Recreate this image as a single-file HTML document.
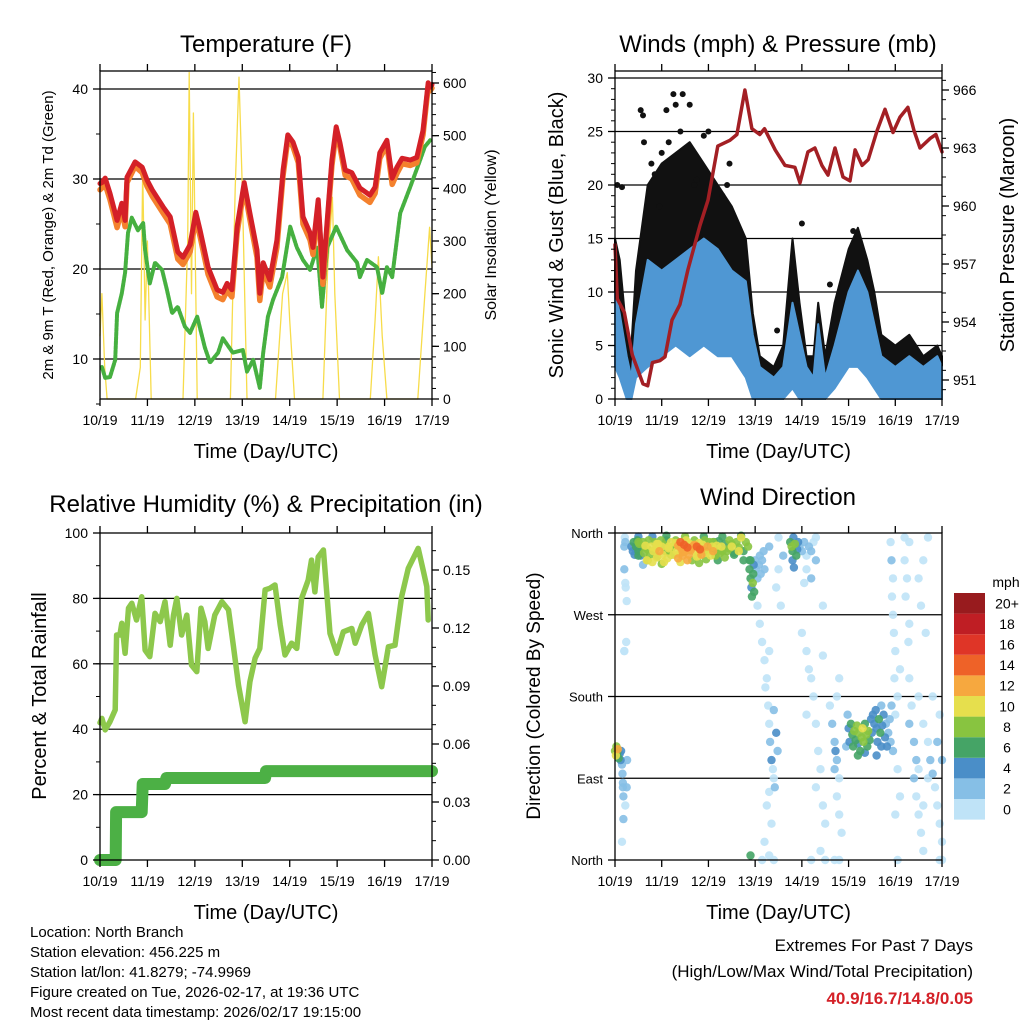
<!DOCTYPE html>
<html><head><meta charset="utf-8"><style>
html,body{margin:0;padding:0;background:#fff;}
svg{display:block;font-family:"Liberation Sans",sans-serif;}
</style></head><body>
<svg id="c" width="1024" height="1024" viewBox="0 0 1024 1024"></svg>
<script>
// ---------- DATA ----------
const dayLabels = ["10/19","11/19","12/19","13/19","14/19","15/19","16/19","17/19"];
const tempTimes = [0,0.04,0.11,0.21,0.36,0.46,0.53,0.57,0.74,0.89,0.99,1.10,1.33,1.48,1.64,1.75,1.90,2.02,2.11,2.28,2.47,2.59,2.68,2.78,2.89,3.04,3.16,3.31,3.37,3.44,3.58,3.73,3.86,3.96,4.07,4.18,4.28,4.43,4.49,4.60,4.70,4.79,4.89,4.98,5.06,5.17,5.31,5.48,5.69,5.80,5.90,6.05,6.16,6.26,6.37,6.54,6.68,6.81,6.92,6.96,7.0];
const temp2m = [29.5,29.6,30.1,28.4,25.4,27.3,25.4,30.2,31.9,31.3,29.9,28.8,26.9,25.8,21.9,21.3,22.7,26.3,24.3,20.2,17.7,17.4,18.4,17.7,24.7,29.6,26.2,22.1,17.3,20.7,18.8,23.2,31,34.9,34.1,32.4,25.8,24,22.4,27.7,19.1,25.4,32.1,35.8,34,31,30.7,29,28.2,29.1,32.9,34.3,30.1,31.3,32.3,32.1,32.4,35.4,40.7,40.2,40.5];
const temp9m = [28.8,29.0,29.4,27.7,24.6,26.6,24.7,29.6,31.4,30.7,29.2,28.1,26.2,25.0,21.1,20.5,21.9,25.6,23.6,19.4,16.9,16.6,17.6,16.9,24.0,29.0,25.5,21.3,16.5,19.9,18.0,22.4,30.4,34.4,33.6,31.8,25.0,23.2,21.6,27.0,18.3,24.7,31.5,35.3,33.5,30.4,30.0,28.2,27.4,28.4,32.3,33.8,29.4,30.6,31.7,31.5,31.8,34.9,40.3,39.8,40.1];
const dewTimes = [0.04,0.11,0.21,0.32,0.36,0.46,0.53,0.59,0.67,0.80,0.91,0.95,1.05,1.16,1.31,1.41,1.52,1.64,1.79,1.90,2.05,2.21,2.32,2.49,2.59,2.80,3.01,3.10,3.23,3.37,3.44,3.54,3.65,3.84,4.01,4.15,4.28,4.43,4.58,4.68,4.79,4.98,5.21,5.42,5.48,5.63,5.84,5.95,6.05,6.16,6.33,6.54,6.75,6.85,6.96];
const dewpoint = [9.1,7.9,8.0,9.9,15.1,17.3,19.6,24.0,25.7,24.3,25.1,22.1,18.4,20.7,19.9,17.7,15.1,15.8,13.6,12.9,14.7,11.3,9.6,10.7,12.3,10.7,11.0,8.6,9.9,6.8,10.7,14.7,16.6,19.1,24.7,22.4,21.0,19.9,22.4,15.8,22.4,24.7,22.1,20.7,19.1,21.0,20.2,17.3,20.2,19.1,26.2,29.1,32.1,33.6,34.3];
const solarTimes = [0,0.04,0.1,0.15,0.75,0.85,0.9,0.95,1.0,1.08,1.75,1.85,1.88,1.93,1.97,2.05,2.75,2.85,2.93,3.0,3.1,3.7,3.85,3.95,4.0,4.1,4.7,4.8,4.9,4.95,5.05,5.7,5.8,5.87,5.95,6.05,6.7,6.85,6.95,7.0];
const solarValues = [120,200,60,0,0,60,435,150,300,0,0,300,620,200,543,0,0,400,611,400,0,0,200,240,150,0,0,250,383,200,0,0,150,270,120,0,0,200,326,250];
const windTimes = [0,0.1,0.25,0.35,0.45,0.7,1.0,1.3,1.6,1.9,2.2,2.5,2.8,2.95,3.1,3.4,3.6,3.8,3.95,4.1,4.25,4.35,4.5,4.7,5.0,5.2,5.4,5.55,5.7,6.0,6.3,6.6,6.9,7];
const windHigh = [10,8,4,2,7,13,12,13,14,15,14,12,11,6,3,2,3,9,6,3,2,7,2,5,10,12,10,7,4,3,4,3,4,3];
const windLow = [3,2,0,0,2,3,4,5,4,5,4,4,2,0,0,0,0,1,0,0,0,0,0,1,3,3,2,1,0,0,0,0,0,0];
const gustHigh = [15,13,6,5,12,20,22,23,24,22,20,18,15,8,4,3,5,15,9,4,4,9,4,9,14,16,13,10,6,5,6,4,5,4];
const gustLow = [5,3,1,0,4,8,9,10,10,10,9,8,5,1,0,0,0,2,1,0,0,1,0,2,5,5,4,2,1,0,0,0,0,0];
const gustOutTimes = [0.05,0.15,0.55,0.6,0.62,0.78,0.85,1.0,1.1,1.25,1.3,1.4,1.45,1.6,1.7,1.75,1.9,2.3,2.4,2.45,3.47,4.6,2.0,1.15,0.95,4.0,5.1];
const gustOutValues = [20,19.8,27,26.5,24,22,21,23,27,28.5,27.5,25,28.5,27.5,20,20.5,24.6,19,20,22,6.4,10.7,25,24,18,16.4,15.7];
const presTimes = [0,0.05,0.2,0.37,0.6,0.7,0.8,0.96,1.07,1.22,1.39,1.56,1.82,1.99,2.2,2.46,2.61,2.78,2.93,3.1,3.2,3.43,3.64,3.85,3.96,4.13,4.28,4.43,4.56,4.71,4.88,5.03,5.14,5.29,5.42,5.61,5.78,5.95,6.1,6.27,6.4,6.53,6.75,6.87,7];
const pressure = [958,955.2,954.5,952.3,950.8,950.7,951.9,952,952.2,954.1,954.9,956.7,959,960.3,963.1,963.4,963.7,966,964,963.7,964,962.9,962.1,962,961.2,962.8,963,962.1,961.6,963,961.5,961.3,962.9,962.1,962.4,963.9,965,963.8,964.6,965.1,963.9,963,963.5,963.7,962.8];
const rhTimes = [0,0.04,0.11,0.21,0.32,0.35,0.42,0.46,0.53,0.6,0.67,0.77,0.88,0.95,1.05,1.16,1.27,1.37,1.48,1.55,1.62,1.72,1.83,1.93,2.04,2.13,2.21,2.28,2.42,2.57,2.71,2.81,2.92,3.06,3.16,3.27,3.37,3.48,3.58,3.69,3.8,3.9,4.04,4.15,4.25,4.39,4.46,4.53,4.6,4.71,4.78,4.85,4.99,5.13,5.31,5.38,5.52,5.66,5.8,5.94,6.08,6.22,6.36,6.5,6.71,6.82,6.89,6.92];
const rhValues = [42,43.3,39.8,42.3,45.9,68.8,68.8,72.4,63.2,77,78.5,73.4,80.5,64.2,62.2,75.4,72.9,79,65.7,74.9,80,68.8,74.9,59.6,57.6,77,72.9,64.7,74.9,79,76.5,65.7,53.5,42.3,54.5,61.7,64.7,82.6,83.1,84.1,71.9,62.7,66.3,64.7,80,85.6,91.7,82,92.7,94.8,82,69.3,63.2,69.8,70.8,66.3,71.9,75.4,62.7,53,65.2,65.7,80.5,89.2,95.3,88.2,83.6,73.4];
const rainTimes = [0,0.33,0.34,0.88,0.9,1.37,1.4,3.48,3.5,7];
const rainValues = [0,0,0.0248,0.0248,0.0393,0.0393,0.0424,0.0424,0.046,0.046];
const dirTimes = [0,0.02,0.03,0.05,0.06,0.08,0.1,0.12,0.13,0.15,0.16,0.17,0.17,0.18,0.15,0.18,0.2,0.2,0.21,0.22,0.2,
0.35,0.38,0.40,0.42,0.45,0.48,0.50,0.52,0.55,0.58,0.60,0.62,0.65,0.68,0.70,0.72,0.75,0.78,0.80,0.82,0.85,0.88,0.90,0.92,0.95,0.98,1.00,1.02,1.05,1.08,1.10,1.12,1.15,1.18,1.20,1.22,1.25,1.28,1.30,1.32,1.35,1.38,1.40,1.42,1.45,1.48,1.50,1.52,1.55,1.58,1.60,1.62,1.65,1.68,1.70,1.72,1.75,1.78,1.80,1.82,1.85,1.88,1.90,1.92,1.95,1.98,2.00,2.02,2.05,2.08,2.10,2.12,2.15,2.18,2.20,2.22,2.25,2.28,2.30,2.35,2.40,2.45,2.50,2.55,2.60,2.65,2.70,2.75,2.80,2.85,2.88,
0.5,0.8,1.1,1.5,1.9,2.3,2.7,0.6,1.0,1.4,1.8,2.2,
2.88,2.9,2.92,2.93,2.95,2.96,2.97,3.0,3.02,3.05,3.08,3.1,3.12,3.15,3.18,3.2,2.98,2.9,
3.05,3.1,3.15,3.2,3.25,3.3,3.22,3.28,3.3,3.32,3.35,3.38,3.4,3.3,3.25,3.35,3.2,3.3,3.15,3.4,3.5,3.45,3.55,3.6,3.5,3.4,3.45,3.48,3.42,3.3,
3.75,3.78,3.8,3.82,3.85,3.88,3.9,3.8,3.83,3.92,3.95,4.0,4.05,4.1,4.15,4.2,4.25,4.3,4.1,4.05,4.2,4.3,
4.0,4.1,4.15,4.2,4.25,4.1,4.3,4.35,4.4,4.3,4.45,4.5,4.4,4.5,4.2,4.45,4.45,
4.6,4.65,4.7,4.72,4.75,4.7,4.8,4.75,4.8,4.85,4.8,4.7,4.75,4.8,
5.0,5.02,5.05,5.08,5.1,5.12,5.15,5.18,5.2,5.22,5.25,5.28,5.3,5.32,5.35,5.38,5.4,5.42,5.45,5.48,5.5,5.52,5.55,5.58,5.6,5.62,5.65,5.68,5.7,5.72,5.75,5.78,5.8,5.82,5.85,5.88,5.9,5.2,5.35,5.6,5.7,4.98,4.95,5.92,5.95,
5.9,5.92,5.95,5.93,5.95,5.97,6.0,5.98,6.05,6.1,6.0,6.05,6.1,6.0,6.05,6.2,6.2,6.25,6.22,6.3,6.3,6.28,6.3,6.35,6.3,6.4,6.45,6.4,6.5,6.45,6.5,6.55,6.6,6.6,6.7,6.7,6.75,6.8,6.85,6.9,6.95,7.0,6.95,6.9,6.95,7.0,6.8,6.6,6.5,6.6,6.7,6.5,6.55,6.65,7.0,
0.2,2.9,
0.5,0.7,0.9,1.05,1.2,1.35,1.55,1.75,1.95,2.15,2.35,2.55,2.75,0.45,0.65,0.85,1.15,1.45,1.65,1.85,2.05,2.25,2.45,2.65,0.22,0.23,0.25,0.24,0.26,0.25,0.22,0.5,0.9,1.3,1.7,2.1,2.5];
const dirValues = [120,115,125,118,122,112,117,110,120,105,95,85,80,70,20,45,345,230,355,350,320,
345,340,350,336,345,352,340,348,335,344,350,338,346,330,342,352,336,345,328,340,350,343,334,348,340,352,345,336,347,340,352,332,345,338,350,344,336,346,352,340,346,337,350,343,335,347,340,352,344,336,348,341,330,346,352,339,345,335,349,342,336,347,341,352,338,345,340,350,335,345,340,350,337,346,342,351,338,345,340,348,340,352,345,338,350,344,355,340,350,345,330,
356,356,357,356,356,356,357,325,326,328,327,330,
320,310,300,290,305,315,325,330,320,310,325,335,315,330,340,320,295,330,
280,260,240,220,200,230,190,170,150,130,110,100,90,75,60,40,20,5,0,0,320,300,280,335,355,165,140,120,80,345,
350,345,340,355,348,335,342,330,322,350,345,340,350,335,345,340,350,330,320,305,310,355,
250,230,210,200,180,160,150,120,100,80,60,40,10,0,0,280,225,
170,150,130,120,110,100,90,70,50,30,0,0,180,200,
145,130,150,138,125,142,132,148,128,140,120,135,145,130,150,138,125,142,132,155,140,160,150,165,145,130,155,140,125,148,160,135,150,125,140,155,130,115,118,115,170,160,125,170,120,
350,330,310,290,270,250,230,200,180,210,160,100,70,50,0,355,330,310,290,260,350,240,200,170,150,130,110,90,100,70,50,30,10,60,90,130,110,95,80,60,40,20,0,130,160,110,180,150,180,330,355,310,280,250,0,
230,5,
335,330,333,328,336,332,330,334,331,335,333,336,330,342,344,341,343,339,344,342,345,341,343,340,305,300,285,240,110,80,60,350,348,349,347,350,348];
const dirSpeeds = [8,10,9,7,12,6,5,4,4,3,3,3,2,2,1,2,2,1,1,2,2,
4,5,6,5,6,7,6,8,4,7,9,8,10,10,9,8,9,10,11,10,8,11,9,10,12,9,10,11,9,8,7,10,10,9,11,8,10,9,8,11,12,10,14,13,12,14,13,11,15,12,10,13,9,12,8,11,14,10,11,15,12,10,9,8,11,12,9,8,10,11,12,7,9,10,8,7,9,10,8,7,9,8,10,7,9,8,10,7,9,8,6,
4,5,6,8,7,6,7,3,9,10,9,6,
7,6,5,6,8,7,5,3,2,3,2,3,2,2,3,2,7,6,
1,1,0,1,0,1,1,0,1,3,4,1,0,0,1,0,1,0,0,0,0,1,1,3,1,3,4,3,2,2,
6,8,7,5,9,6,4,5,5,4,3,2,2,1,3,2,1,2,1,1,2,1,
1,1,0,1,0,0,1,0,0,0,0,1,0,0,0,0,1,
1,2,3,4,3,2,1,0,0,1,0,1,1,0,
4,5,6,7,6,8,7,9,5,8,6,8,10,9,7,8,7,9,7,5,4,4,5,5,4,5,6,7,4,5,4,4,3,4,3,2,3,6,5,4,3,3,2,2,3,
1,3,1,1,0,1,1,0,0,1,1,0,1,0,0,0,1,1,0,0,0,0,0,1,3,2,3,2,0,1,0,1,0,0,0,1,2,3,1,0,1,0,0,3,1,3,0,1,1,0,0,0,0,0,1,
1,6,
6,8,10,11,9,12,13,10,9,8,9,7,6,5,8,9,10,12,13,12,9,8,9,10,1,1,1,1,3,3,1,9,10,11,12,9,8];
const speedLabels = ["0","2","4","6","8","10","12","14","16","18","20+"];
const speedColors = ["#bfe3f7","#86bfe6","#4a8ec8","#45a466","#88c440","#e6df4d","#f6a83f","#ee6228","#df3527","#bf1e24","#981b1e"];

// ---------- HELPERS ----------
const svg = document.getElementById('c');
const NS = 'http://www.w3.org/2000/svg';
function mk(tag, attrs, parent){ const e=document.createElementNS(NS,tag); for(const k in attrs) e.setAttribute(k,attrs[k]); (parent||svg).appendChild(e); return e; }
function txt(s, x, y, size, anchor, parent, extra){ const t=mk('text',Object.assign({x:x,y:y,'font-size':size,'text-anchor':anchor||'middle',fill:'#000'},extra||{}),parent); t.textContent=s; return t; }
function lin(d0,d1,p0,p1){ return v => p0+(v-d0)/(d1-d0)*(p1-p0); }

function panel(name, x0,x1,y0,y1){
  const g=mk('g',{});
  
  
  return {g:g,x0:x0,x1:x1,y0:y0,y1:y1,X:lin(0,7,x0,x1)};
}
function frame(P, xlabel){
  mk('rect',{x:P.x0,y:P.y0,width:P.x1-P.x0,height:P.y1-P.y0,fill:'none',stroke:'#000','stroke-width':1.3},P.g);
  for(let i=0;i<dayLabels.length;i++){
    const x=P.X(i);
    mk('line',{x1:x,x2:x,y1:P.y1,y2:P.y1+7,stroke:'#000','stroke-width':1.3},P.g);
    mk('line',{x1:x,x2:x,y1:P.y0,y2:P.y0-7,stroke:'#000','stroke-width':1.3},P.g);
    const t=txt(dayLabels[i],x,P.y1+26,14,'middle',P.g);
    
    
  }
  const xl=txt(xlabel,(P.x0+P.x1)/2,P.y1+59,20,'middle',P.g);
  
  
}
function yaxis(P, scale, vals, labels, minor, side, fs){
  const x=side==='left'?P.x0:P.x1, d=side==='left'?-1:1;
  minor.forEach(v=>{ const y=scale(v); mk('line',{x1:x,x2:x+d*4,y1:y,y2:y,stroke:'#000','stroke-width':1},P.g); });
  vals.forEach((v,i)=>{ const y=scale(v);
    mk('line',{x1:x,x2:x+d*7,y1:y,y2:y,stroke:'#000','stroke-width':1.3},P.g);
    const t=txt(labels[i],x+d*(side==='left'?12:11),y+5,fs||14,side==='left'?'end':'start',P.g);
    
    
  });
}
function grid(P, scale, vals){ vals.forEach(v=>{ const y=scale(v); mk('line',{x1:P.x0,x2:P.x1,y1:y,y2:y,stroke:'#000','stroke-width':1.2},P.g); }); }
function poly(P, xs, ys, color, w, name){
  const pts=xs.map((t,i)=>P.X(t).toFixed(1)+','+ys[i].toFixed(1)).join(' ');
  const e=mk('polyline',{points:pts,fill:'none',stroke:color,'stroke-width':w,'stroke-linejoin':'round','stroke-linecap':'round'},P.g);
  
  
  return e;
}
function band(P, xs, lo, hi, color, name){
  let pts=xs.map((t,i)=>P.X(t).toFixed(1)+','+hi[i].toFixed(1));
  for(let i=xs.length-1;i>=0;i--) pts.push(P.X(xs[i]).toFixed(1)+','+lo[i].toFixed(1));
  const e=mk('polygon',{points:pts.join(' '),fill:color,stroke:color,'stroke-width':2,'stroke-linejoin':'round'},P.g);
  
  
}
function title(s,x,y,name){ const t=txt(s,x,y,24,'middle');   }
function rotLabel(s,x,y,fs,name){ const t=txt(s,x,y,fs,'middle',null,{transform:'rotate(-90 '+x+' '+y+')'});   }
function range(a,b,s){ const r=[]; for(let v=a; v<=b+1e-9; v+=s) r.push(+v.toFixed(4)); return r; }

// ---------- PANEL 1: TEMPERATURE ----------
title('Temperature (F)',266,52,'temperature-title');
const P1=panel('temperature-panel',100,432,71,399);
const T1=lin(10,40,359,89), S1=lin(0,600,399,83);
grid(P1,T1,[10,20,30,40]);
poly(P1,solarTimes,solarValues.map(S1),'#f7dc4a',1.3,'solar-insolation-line');
poly(P1,dewTimes,dewpoint.map(T1),'#46b040',4,'dewpoint-line').setAttribute('stroke-dasharray','3 1.5');
poly(P1,tempTimes,temp9m.map(T1),'#f4812d',5.5,'temp-9m-line');
poly(P1,tempTimes,temp2m.map(T1),'#d42027',5,'temp-2m-line');
frame(P1,'Time (Day/UTC)');
yaxis(P1,T1,[10,20,30,40],['10','20','30','40'],range(5,40,5),'left');
yaxis(P1,S1,[0,100,200,300,400,500,600],['0','100','200','300','400','500','600'],range(0,620,20),'right');
rotLabel('2m & 9m T (Red, Orange) & 2m Td (Green)',53,235,15,'left-y-axis-title');
rotLabel('Solar Insolation (Yellow)',496,235,16,'right-y-axis-title');

// ---------- PANEL 2: WINDS ----------
title('Winds (mph) & Pressure (mb)',778,52,'winds-title');
const P2=panel('winds-panel',615,942,71,399);
const W2=lin(0,30,399,78), Pr2=lin(951,966,380,90);
grid(P2,W2,[5,10,15,20,25,30]);
band(P2,windTimes,gustLow.map(W2),gustHigh.map(W2),'#111','gust-band');
for(let i=0;i<gustOutTimes.length;i++){
  const c=mk('circle',{cx:P2.X(gustOutTimes[i]).toFixed(1),cy:W2(gustOutValues[i]).toFixed(1),r:3,fill:'#111'},P2.g);
  
  
}
band(P2,windTimes,windLow.map(W2),windHigh.map(W2),'#4f97d3','sustained-wind-band');
poly(P2,presTimes,pressure.map(Pr2),'#a31f24',3.5,'pressure-line');
frame(P2,'Time (Day/UTC)');
yaxis(P2,W2,[0,5,10,15,20,25,30],['0','5','10','15','20','25','30'],range(0,30,1),'left');
yaxis(P2,Pr2,[951,954,957,960,963,966],['951','954','957','960','963','966'],range(950.5,966.5,1),'right');
rotLabel('Sonic Wind & Gust (Blue, Black)',563,235,20,'left-y-axis-title');
rotLabel('Station Pressure (Maroon)',1014,235,20,'right-y-axis-title');

// ---------- PANEL 3: RH & PRECIP ----------
title('Relative Humidity (%) & Precipitation (in)',266,512,'humidity-title');
const P3=panel('humidity-panel',100,432,533,860);
const H3=lin(0,100,860,533), R3=lin(0,0.15,860,570);
grid(P3,H3,[20,40,60,80]);
poly(P3,rhTimes,rhValues.map(H3),'#8dc84c',5.5,'humidity-line');
poly(P3,rainTimes,rainValues.map(R3),'#4cb045',12,'precipitation-line');
frame(P3,'Time (Day/UTC)');
yaxis(P3,H3,[0,20,40,60,80,100],['0','20','40','60','80','100'],range(0,100,10),'left');
yaxis(P3,R3,[0,0.03,0.06,0.09,0.12,0.15],['0.00','0.03','0.06','0.09','0.12','0.15'],range(0,0.165,0.01),'right');
rotLabel('Percent & Total Rainfall',46,696,20,'left-y-axis-title');

// ---------- PANEL 4: WIND DIRECTION ----------
title('Wind Direction',778,505,'wind-direction-title');
const P4=panel('wind-direction-panel',615,942,533,860);
const D4=lin(0,360,860,533);
grid(P4,D4,[90,180,270]);
const order=[...dirTimes.keys()].sort((a,b)=>dirSpeeds[a]-dirSpeeds[b]);
order.forEach(i=>{
  const bin=Math.min(10,Math.floor(dirSpeeds[i]/2));
  const c=mk('circle',{cx:P4.X(dirTimes[i]).toFixed(1),cy:D4(dirValues[i]).toFixed(1),r:4.2,fill:speedColors[bin],'fill-opacity':0.9},P4.g);
  
  
});
frame(P4,'Time (Day/UTC)');
yaxis(P4,D4,[0,90,180,270,360],['North','East','South','West','North'],[],'left',13);
rotLabel('Direction (Colored By Speed)',540,696,19,'left-y-axis-title');
// colorbar
const cb=mk('g',{});


const cbTop=593, cbH=20.6;
for(let i=0;i<speedColors.length;i++){
  const y=cbTop+(speedColors.length-1-i)*cbH;
  mk('rect',{x:954,y:y,width:31,height:cbH,fill:speedColors[i]},cb);
  const t=txt(speedLabels[i],1007,y+cbH/2+5,14,'middle',cb);
  
  
}
txt('mph',1006,587,14,'middle',cb);

// ---------- FOOTER ----------
const info=["Location: North Branch","Station elevation: 456.225 m","Station lat/lon: 41.8279; -74.9969","Figure created on Tue, 2026-02-17, at 19:36 UTC","Most recent data timestamp: 2026/02/17 19:15:00"];
info.forEach((s,i)=>{ const t=txt(s,30,937+i*20,15,'start');   });
let t=txt('Extremes For Past 7 Days',973,951,17,'end');  
t=txt('(High/Low/Max Wind/Total Precipitation)',973,977,17,'end');  
t=txt('40.9/16.7/14.8/0.05',973,1004,17,'end',null,{'font-weight':'bold',fill:'#d42027'});  
</script>
</body></html>
